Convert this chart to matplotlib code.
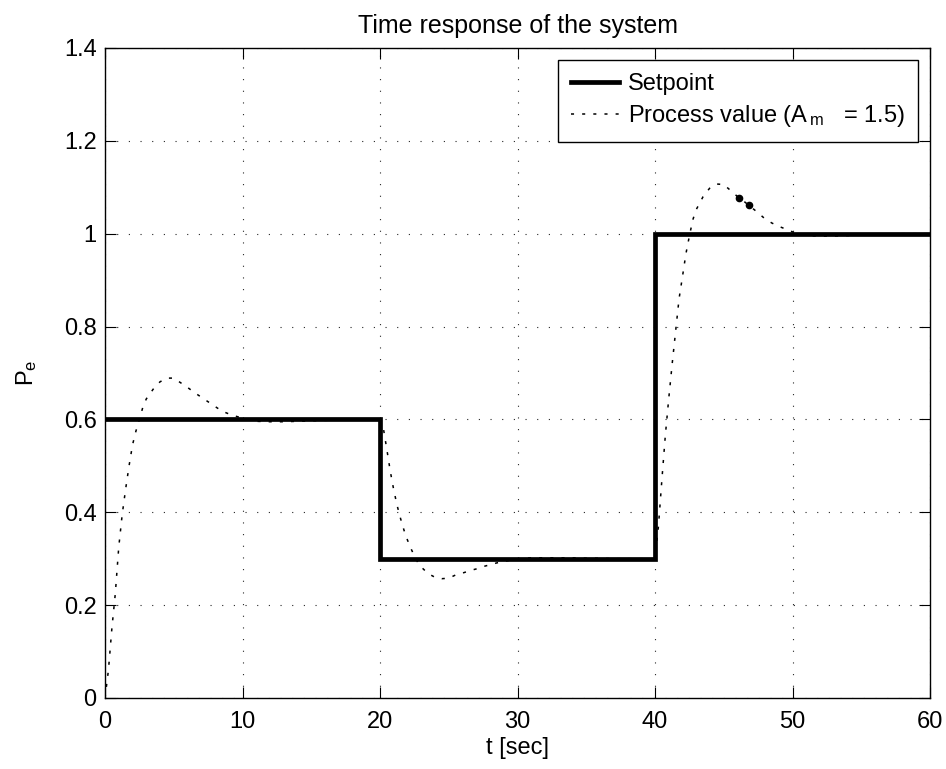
import matplotlib
matplotlib.use('Agg')
import matplotlib.pyplot as plt

# --- data ---
sp_t = [0, 20, 40, 60]
sp_y = [0.6, 0.3, 1.0, 1.0]

pv_t = [0, 0.25, 0.5, 0.75, 1.0, 1.25, 1.5, 1.75, 2.0, 2.25, 2.5, 2.75, 3.0, 3.5,
        4.0, 4.5, 5.0, 5.5, 6.0, 6.5, 7.0, 7.5, 8.0, 8.5, 9.0, 9.5, 10.0, 10.5,
        11, 12, 13, 14, 15, 16, 17, 18, 19, 20,
        20.25, 20.5, 20.75, 21.0, 21.25, 21.5, 21.75, 22.0, 22.25, 22.5, 22.75,
        23.0, 23.5, 24.0, 24.5, 25.0, 25.5, 26.0, 26.5, 27.0, 27.5, 28.0, 28.5,
        29.0, 29.5, 30.0, 30.5, 31, 32, 33, 34, 35, 36, 37, 38, 39, 40,
        40.25, 40.5, 40.75, 41.0, 41.25, 41.5, 41.75, 42.0, 42.25, 42.5, 42.75,
        43.0, 43.5, 44.0, 44.5, 45.0, 45.5, 46.0, 46.5, 47.0, 47.5, 48.0, 48.5,
        49.0, 49.5, 50.0, 50.5, 51, 52, 53, 54, 55, 56, 57, 58, 59, 60]
pv_y = [0, 0.06, 0.15, 0.225, 0.325, 0.395, 0.45, 0.50, 0.545, 0.575, 0.60, 0.626,
        0.644, 0.665, 0.681, 0.689, 0.689, 0.679, 0.669, 0.658, 0.648, 0.638,
        0.628, 0.618, 0.612, 0.607, 0.603, 0.599, 0.596, 0.595, 0.595, 0.596,
        0.597, 0.598, 0.599, 0.6, 0.6, 0.6,
        0.58, 0.535, 0.488, 0.448, 0.414, 0.386, 0.361, 0.34, 0.322, 0.306, 0.292,
        0.282, 0.268, 0.26, 0.257, 0.258, 0.265, 0.269, 0.274, 0.278, 0.283,
        0.287, 0.291, 0.294, 0.297, 0.3, 0.301, 0.302, 0.302, 0.302, 0.302,
        0.301, 0.301, 0.3, 0.3, 0.3, 0.3,
        0.37, 0.47, 0.565, 0.645, 0.72, 0.79, 0.86, 0.908, 0.957, 0.995, 1.03,
        1.052, 1.08, 1.099, 1.107, 1.106, 1.093, 1.08, 1.069, 1.057, 1.045,
        1.032, 1.023, 1.016, 1.01, 1.004, 0.999, 0.996, 0.995, 0.995, 0.996,
        0.997, 0.998, 0.999, 1.0, 1.0, 1.0]

# two heavier dots visible on the curve
dot_t = [46.1, 46.8]
dot_y = [1.078, 1.062]

xticks = [0, 10, 20, 30, 40, 50, 60]
yticks = [0, 0.2, 0.4, 0.6, 0.8, 1.0, 1.2, 1.4]
ytick_labels = ['0', '0.2', '0.4', '0.6', '0.8', '1', '1.2', '1.4']

# --- style ---
plt.rcParams['font.family'] = ['Liberation Sans', 'DejaVu Sans']
plt.rcParams['mathtext.fontset'] = 'custom'
plt.rcParams['mathtext.rm'] = 'Liberation Sans'
plt.rcParams['mathtext.it'] = 'Liberation Sans'

fig = plt.figure(figsize=(9.46, 7.69), dpi=100)
ax = fig.add_axes([105/946, 1 - 698/769, 825/946, 650/769])

ax.plot(sp_t, sp_y, color='black', lw=3.4, drawstyle='steps-post',
        label='Setpoint', solid_joinstyle='miter', zorder=3)
ax.plot(pv_t, pv_y, color='black', lw=1.1, linestyle=(0, (2, 5.3)),
        label=r'Process value (A$_{\,\mathrm{m}}\quad$= 1.5)', zorder=4)
ax.plot(dot_t, dot_y, 'o', color='black', ms=4.5, zorder=5)

ax.set_xlim(0, 60)
ax.set_ylim(0, 1.4)
ax.set_xticks(xticks)
ax.set_yticks(yticks)
ax.set_yticklabels(ytick_labels)
ax.tick_params(direction='in', top=True, right=True, length=8, width=0.8,
               labelsize=17)
ax.tick_params(axis='x', pad=9)
ax.tick_params(axis='y', pad=6)
ax.grid(True, color='0.15', linestyle=(0, (1, 9.5)), linewidth=0.8)
for s in ax.spines.values():
    s.set_linewidth(1.0)

ax.set_title('Time response of the system', fontsize=18, pad=11)
ax.set_xlabel('t [sec]', fontsize=17, labelpad=3)
ax.set_ylabel(r'P$_\mathrm{e}$', fontsize=17, labelpad=18)

leg = ax.legend(loc='upper right', bbox_to_anchor=(0.9855, 0.9815),
                borderaxespad=0, fontsize=17, frameon=True, fancybox=False,
                edgecolor='black', framealpha=1, handlelength=2.0,
                handletextpad=0.4, labelspacing=0.35, borderpad=0.55)
leg.get_frame().set_linewidth(1.0)

fig.savefig('out.png', dpi=100)
